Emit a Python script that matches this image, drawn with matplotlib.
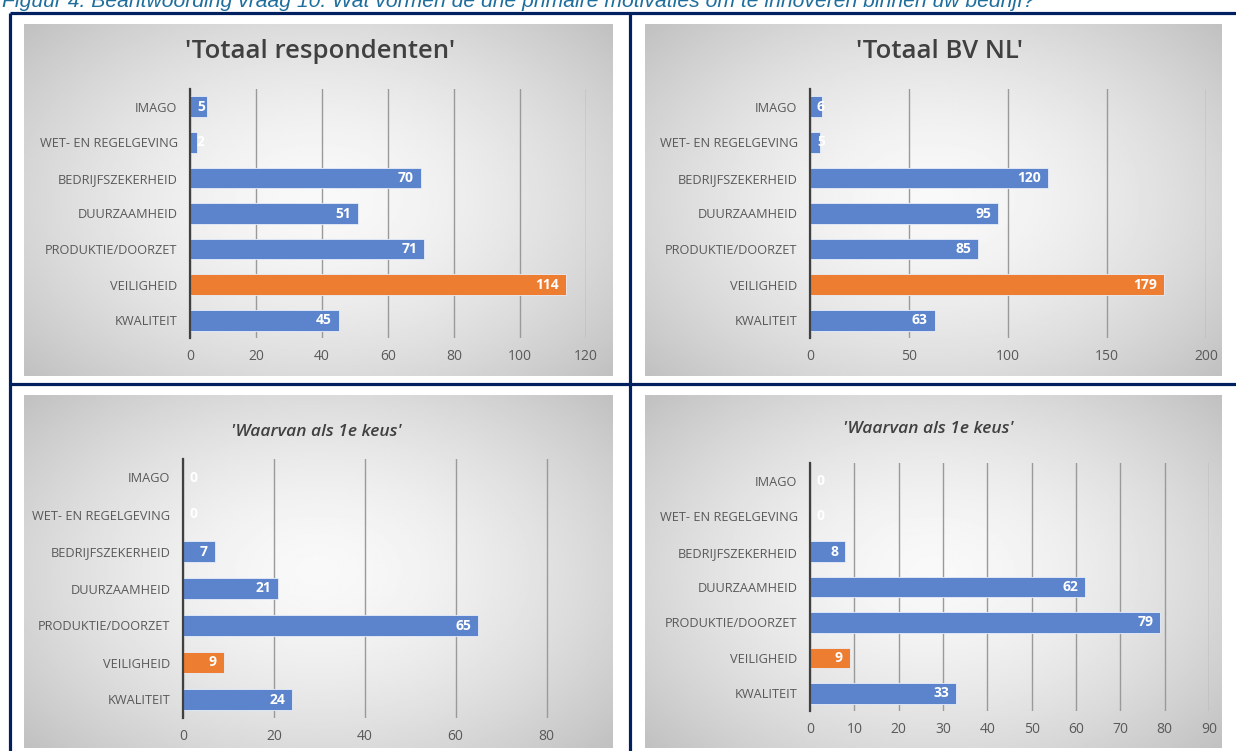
import numpy as np
import matplotlib.pyplot as plt
from matplotlib.lines import Line2D

W, H = 1236, 751

# --- data ---
categories = ["IMAGO", "WET- EN REGELGEVING", "BEDRIJFSZEKERHEID", "DUURZAAMHEID",
              "PRODUKTIE/DOORZET", "VEILIGHEID", "KWALITEIT"]
totaal_respondenten = [5, 2, 70, 51, 71, 114, 45]
totaal_bv_nl = [6, 5, 120, 95, 85, 179, 63]
eerste_keus_respondenten = [0, 0, 7, 21, 65, 9, 24]
eerste_keus_bv_nl = [0, 0, 8, 62, 79, 9, 33]
highlight = "VEILIGHEID"

caption = ("Figuur 4. Beantwoording vraag 10. Wat vormen de drie primaire "
           "motivaties om te innoveren binnen uw bedrijf?")

BLUE = "#5b84cc"
ORANGE = "#ed7d31"
NAVY = "#002060"
LABEL_GRAY = "#595959"

plt.rcParams['font.family'] = ['Open Sans', 'DejaVu Sans']

fig = plt.figure(figsize=(W / 100, H / 100), dpi=100)
fig.patch.set_facecolor("white")


def px_axes(x0, y0, x1, y1, **kw):
    """add axes from pixel box (top-left origin)"""
    return fig.add_axes([x0 / W, 1 - y1 / H, (x1 - x0) / W, (y1 - y0) / H], **kw)


def gradient_panel(x0, y0, x1, y1):
    # radial grey gradient like the excel chart area
    ax = px_axes(x0, y0, x1, y1, zorder=0)
    nx, ny = 300, 200
    xx, yy = np.meshgrid(np.linspace(-1, 1, nx), np.linspace(-1, 1, ny))
    r = np.sqrt(xx ** 2 + (yy * 0.9) ** 2) / np.sqrt(1 + 0.81)
    v = 0.975 - 0.22 * r ** 1.6
    ax.imshow(v, cmap="gray", vmin=0, vmax=1, aspect="auto", extent=(0, 1, 0, 1))
    ax.set_xlim(0, 1)
    ax.set_ylim(0, 1)
    ax.axis("off")
    return ax


def bar_chart(box, values, xmax, ticks, title, title_x, title_y, title_size, italic):
    x0, y0, x1, y1 = box
    ax = px_axes(x0, y0, x1, y1, zorder=2)
    ax.patch.set_alpha(0)
    ypos = np.arange(len(categories))
    colors = [ORANGE if c == highlight else BLUE for c in categories]
    ax.barh(ypos, values, height=0.58, color=colors, edgecolor="#e8eefa",
            linewidth=0.6, zorder=3)
    ax.set_xlim(0, xmax)
    ax.set_ylim(len(categories) - 0.5, -0.5)
    ax.set_xticks(ticks)
    ax.set_xticklabels([str(t) for t in ticks], fontsize=10, color=LABEL_GRAY)
    ax.set_yticks(ypos)
    ax.set_yticklabels(categories, fontsize=9.2, color=LABEL_GRAY)
    ax.tick_params(axis="both", length=0)
    ax.tick_params(axis="x", pad=8)
    ax.tick_params(axis="y", pad=9)
    ax.grid(axis="x", color="#9a9a9a", linewidth=1.0, zorder=1)
    ax.set_axisbelow(True)
    for s in ("top", "right", "bottom"):
        ax.spines[s].set_visible(False)
    ax.spines["left"].set_color("#404040")
    ax.spines["left"].set_linewidth(1.6)
    ax.spines["left"].set_zorder(4)
    for y, v in zip(ypos, values):
        if v / xmax < 0.06:
            ax.annotate(str(v), (0, y), xytext=(5, 0), textcoords="offset points",
                        ha="left", va="center", color="white", fontsize=10,
                        fontweight="bold", zorder=5)
        else:
            ax.annotate(str(v), (v, y), xytext=(-5, 0), textcoords="offset points",
                        ha="right", va="center", color="white", fontsize=10,
                        fontweight="bold", zorder=5)
    fig.text(title_x / W, 1 - title_y / H, title, ha="center", va="center",
             fontsize=title_size, color="#404040",
             fontstyle="italic" if italic else "normal",
             fontweight="semibold")
    return ax


# panel backgrounds
gradient_panel(24, 24, 613, 376)
gradient_panel(645, 24, 1222, 376)
gradient_panel(24, 395, 613, 748)
gradient_panel(645, 395, 1222, 748)

bar_chart((190, 89, 586, 338), totaal_respondenten, 120, range(0, 121, 20),
          "'Totaal respondenten'", 320, 52, 18.5, False)
bar_chart((810, 89, 1206, 338), totaal_bv_nl, 200, range(0, 201, 50),
          "'Totaal BV NL'", 940, 52, 18.5, False)
bar_chart((183, 459, 592, 718), eerste_keus_respondenten, 90, range(0, 81, 20),
          "'Waarvan als 1e keus'", 316, 432, 12.5, True)
bar_chart((810, 463, 1209, 711), eerste_keus_bv_nl, 90, range(0, 91, 10),
          "'Waarvan als 1e keus'", 928, 429, 12.5, True)

# table borders
lw = 2.3
for (xa, ya, xb, yb) in [(10, 13, W, 13), (10, 13, 10, H), (630, 13, 630, H),
                         (10, 384, W, 384)]:
    fig.add_artist(Line2D([xa / W, xb / W], [1 - ya / H, 1 - yb / H],
                          transform=fig.transFigure, color=NAVY, linewidth=lw,
                          solid_capstyle="butt"))

# caption, cut off at the top of the page as in the source document
fig.text(2 / W, 1 - 7 / H, caption, ha="left", va="baseline", fontsize=15.2,
         color="#1f6e9c", fontstyle="italic", family=["Liberation Sans"])

fig.savefig("out.png", dpi=100)
